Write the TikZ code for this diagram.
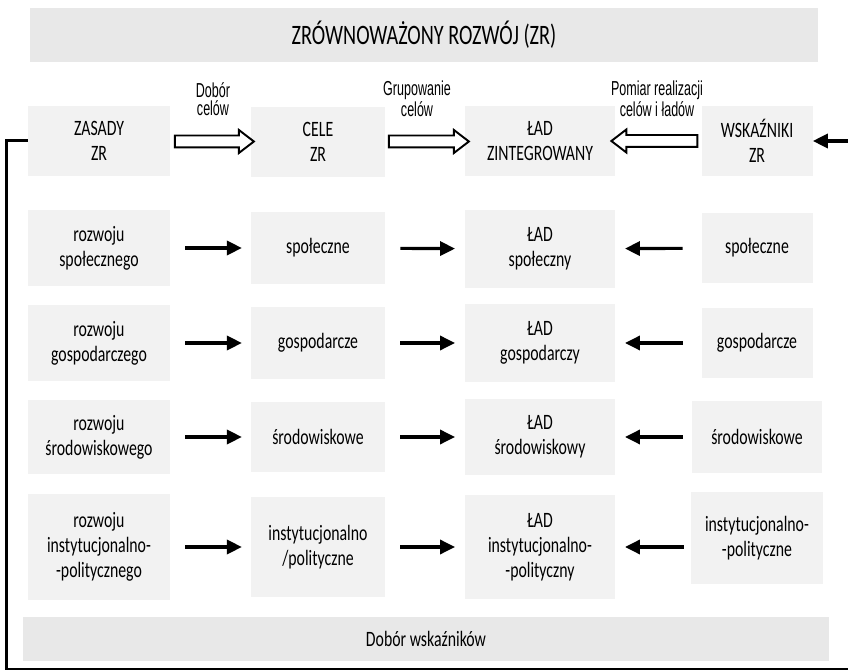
\documentclass[tikz,border=0pt]{standalone}
\usepackage{fontspec}
\setmainfont{Carlito}[FakeStretch=0.72]
\newfontfamily\lblfont{Liberation Sans}[FakeStretch=0.62]
\usetikzlibrary{arrows.meta,shapes.arrows,calc}
\definecolor{boxgray}{HTML}{F2F2F2}
\definecolor{bargray}{HTML}{E8E8E8}

\begin{document}
\begin{tikzpicture}[x=0.02cm,y=-0.02cm,
		box/.style={fill=boxgray, inner sep=0pt, align=center, font=\fontsize{12.5}{14.2}\selectfont},
		bar/.style={fill=bargray, inner sep=0pt, align=center},
		sz/.style 2 args={minimum width=#1*0.02cm, minimum height=#2*0.02cm},
		hollow/.style={single arrow, draw=black, fill=white, line width=1.1pt, inner xsep=0pt, inner ysep=5*0.02cm,
			single arrow head extend=5.5*0.02cm, single arrow tip angle=75},
		lbl/.style={align=center, inner sep=0pt, font=\lblfont\fontsize{11.5}{10}\selectfont},
		blk/.style={line width=1.8pt, -{Triangle[length=8.5pt,width=8pt]}},
		fb/.style={line width=1.7pt}]
	% page size of the reference
	\useasboundingbox (0,0) rectangle (848,671);
	
	% top and bottom bars
	\node[bar, sz={788}{54}, font=\fontsize{16}{18}\selectfont] (zr) at (424,35) {ZRÓWNOWAŻONY ROZWÓJ (ZR)};
	\node[bar, sz={806}{44}, font=\fontsize{12.5}{14}\selectfont] (dobor) at (426,639) {Dobór wskaźników};
	
	% first row
	\node[box, sz={142}{70}] (zasady) at (99,141) {ZASADY\\ZR};
	\node[box, sz={134}{70}] (cele) at (318,142) {CELE\\ZR};
	\node[box, sz={150}{70}] (lad) at (540,141) {ŁAD\\ZINTEGROWANY};
	\node[box, sz={111}{70}] (wsk) at (757,141) {WSKAŹNIKI\\ZR};
	
	% hollow arrows with their labels
	\node[hollow, minimum height=79*0.02cm] (h1) at ($(zasady.east)!0.5!(cele.west)$) {};
	\node[hollow, minimum height=80*0.02cm] (h2) at ($(cele.east)!0.5!(lad.west)$) {};
	\node[hollow, minimum height=86*0.02cm, shape border rotate=180] (h3) at ($(lad.east)!0.5!(wsk.west)$) {};
	\node[lbl] (l1) at (213,99) {Dobór\\celów};
	\node[lbl] (l2) at (417,99) {Grupowanie\\celów};
	\node[lbl] (l3) at (657,99) {Pomiar realizacji\\celów i ładów};
	
	% second row
	\node[box, sz={142}{76}] (sa) at (99,248) {rozwoju\\społecznego};
	\node[box, sz={134}{72}] (sb) at (318,248) {społeczne};
	\node[box, sz={150}{78}] (sc) at (540,249) {ŁAD\\społeczny};
	\node[box, sz={111}{70}] (sd) at (757,248) {społeczne};
	
	% third row
	\node[box, sz={142}{76}] (ga) at (99,343) {rozwoju\\gospodarczego};
	\node[box, sz={134}{72}] (gb) at (318,343) {gospodarcze};
	\node[box, sz={150}{78}] (gc) at (540,343) {ŁAD\\gospodarczy};
	\node[box, sz={111}{70}] (gd) at (757,343) {gospodarcze};
	
	% fourth row
	\node[box, sz={142}{74}] (ea) at (99,437) {rozwoju\\środowiskowego};
	\node[box, sz={134}{70}] (eb) at (318,437) {środowiskowe};
	\node[box, sz={150}{76}] (ec) at (540,437) {ŁAD\\środowiskowy};
	\node[box, sz={130}{72}] (ed) at (757,437) {środowiskowe};
	
	% fifth row
	\node[box, sz={142}{105}] (ia) at (99,547) {rozwoju\\instytucjonalno-\\-politycznego};
	\node[box, sz={134}{100}] (ib) at (318,547) {instytucjonalno\\/polityczne};
	\node[box, sz={150}{103}] (ic) at (540,547) {ŁAD\\instytucjonalno-\\-polityczny};
	\node[box, sz={132}{92}] (id) at (757,538) {instytucjonalno-\\-polityczne};
	
	% black arrows between the boxes
	\draw[blk, shorten <=8.5pt, shorten >=5pt] (sa) -- (sb);
	\draw[blk, shorten <=8.5pt, shorten >=5.5pt] (sb) -- (sc);
	\draw[blk, shorten <=10.5pt, shorten >=5.5pt] (sd) -- (sc);
	\draw[blk, shorten <=8.5pt, shorten >=5pt] (ga) -- (gb);
	\draw[blk, shorten <=8.5pt, shorten >=5.5pt] (gb) -- (gc);
	\draw[blk, shorten <=10.5pt, shorten >=5.5pt] (gd) -- (gc);
	\draw[blk, shorten <=8.5pt, shorten >=5pt] (ea) -- (eb);
	\draw[blk, shorten <=8.5pt, shorten >=5.5pt] (eb) -- (ec);
	\draw[blk, shorten <=5pt, shorten >=5.5pt] (ed) -- (ec);
	\draw[blk, shorten <=8.5pt, shorten >=5pt] (ia.east |- ib.center) -- (ib);
	\draw[blk, shorten <=8.5pt, shorten >=5.5pt] (ib) -- (ic);
	\draw[blk, shorten <=4pt, shorten >=5.5pt] (id.west |- ic.center) -- (ic);
	
	% feedback line round the page
	\coordinate (fbend) at (848,669);
	\coordinate (fbin) at (848,141);
	\draw[fb] (zasady.west) -- ++(-21,0) |- (fbend);
	\draw[blk] (fbin) -- (wsk.east);
\end{tikzpicture}
\end{document}
